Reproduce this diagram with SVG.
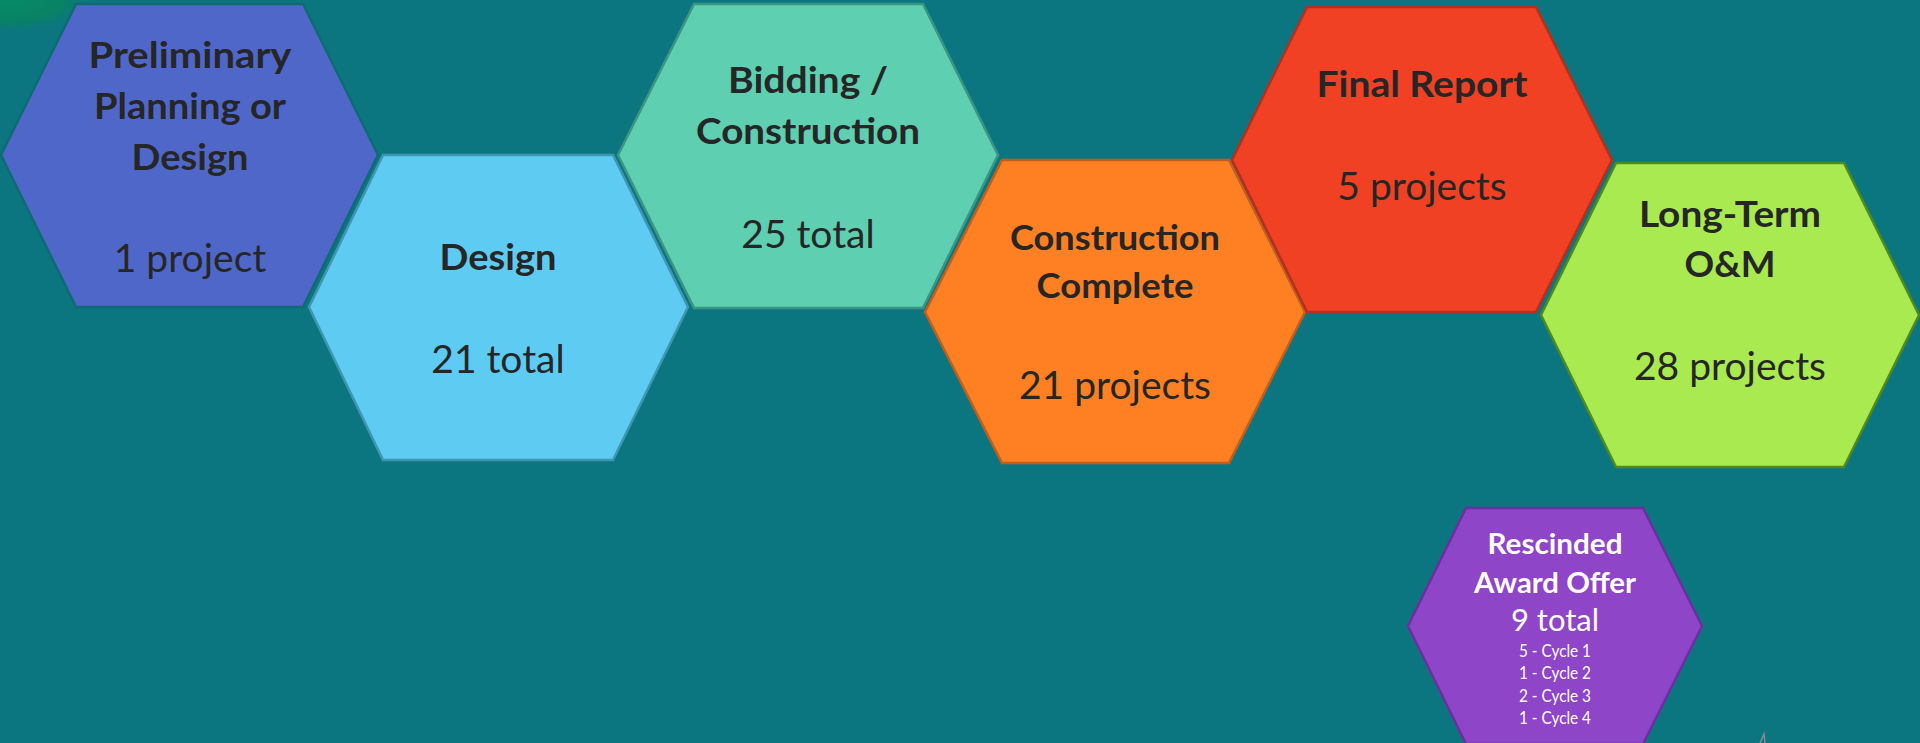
<svg xmlns="http://www.w3.org/2000/svg" width="1920" height="743" viewBox="0 0 1920 743">
<style>
.hex{stroke-width:2.5;stroke-linejoin:miter}
.h{font-family:Lato,"Open Sans","Liberation Sans",sans-serif;font-weight:700;font-size:37px;fill:#262626;text-anchor:middle}
.h2{font-size:35px}
.n{font-family:Lato,"Open Sans","Liberation Sans",sans-serif;font-weight:400;font-size:39px;fill:#262626;text-anchor:middle}
.wh{font-family:Lato,"Open Sans","Liberation Sans",sans-serif;font-weight:700;font-size:29px;fill:#ffffff;text-anchor:middle}
.wn{font-family:Lato,"Open Sans","Liberation Sans",sans-serif;font-weight:400;font-size:31px;fill:#ffffff;text-anchor:middle}
.ws{font-family:Lato,"Open Sans","Liberation Sans",sans-serif;font-weight:400;font-size:18px;fill:#ffffff;text-anchor:middle}
</style>
<defs>
<radialGradient id="glow" cx="0" cy="0" r="1" gradientUnits="userSpaceOnUse" gradientTransform="translate(10,0) scale(90,35)">
<stop offset="0" stop-color="#078a68"/>
<stop offset="0.6" stop-color="#088264"/>
<stop offset="1" stop-color="#0c7680" stop-opacity="0"/>
</radialGradient>
</defs>
<rect width="1920" height="743" fill="#0c7680"/>
<rect width="120" height="50" fill="url(#glow)"/>

<g id="connectors"></g>

<g id="node-preliminary">
<polygon class="hex" points="76,4 303,4 378,155 303,307 76,307 1,155" fill="#5067ca" stroke="#0f6a74"/>
<text class="h" x="190" y="68" textLength="203" lengthAdjust="spacingAndGlyphs">Preliminary</text>
<text class="h" x="190" y="119" textLength="192" lengthAdjust="spacingAndGlyphs">Planning or</text>
<text class="h" x="190" y="170" textLength="117" lengthAdjust="spacingAndGlyphs">Design</text>
<text class="n" x="190" y="272">1 project</text>
</g>

<g id="node-design">
<polygon class="hex" points="383,155 613,155 688,307 613,460 383,460 309,307" fill="#5ecbf3" stroke="#3f96b2"/>
<text class="h" x="498" y="270" textLength="117" lengthAdjust="spacingAndGlyphs">Design</text>
<text class="n" x="498" y="373">21 total</text>
</g>

<g id="node-bidding">
<polygon class="hex" points="694,4 923,4 998,155 923,308 694,308 618,155" fill="#5ecfb1" stroke="#3b9585"/>
<text class="h" x="808" y="93" textLength="160" lengthAdjust="spacingAndGlyphs">Bidding /</text>
<text class="h" x="808" y="144" textLength="224" lengthAdjust="spacingAndGlyphs">Construction</text>
<text class="n" x="808" y="248">25 total</text>
</g>

<g id="node-construction-complete">
<polygon class="hex" points="1002,160 1229,160 1305,312 1229,463 1002,463 925,312" fill="#ff8022" stroke="#c25d1c"/>
<text class="h h2" x="1115" y="250" textLength="210" lengthAdjust="spacingAndGlyphs">Construction</text>
<text class="h h2" x="1115" y="298" textLength="157" lengthAdjust="spacingAndGlyphs">Complete</text>
<text class="n" x="1115" y="399">21 projects</text>
</g>

<g id="node-final-report">
<polygon class="hex" points="1307,7 1536,7 1612,160 1536,312 1307,312 1232,160" fill="#f04124" stroke="#b3301f"/>
<text class="h" x="1422" y="97" textLength="211" lengthAdjust="spacingAndGlyphs">Final Report</text>
<text class="n" x="1422" y="200">5 projects</text>
</g>

<g id="node-long-term">
<polygon class="hex" points="1616,163 1844,163 1919,315 1844,467 1616,467 1541,315" fill="#a8ea50" stroke="#4f8a1f"/>
<text class="h" x="1730" y="227" textLength="182" lengthAdjust="spacingAndGlyphs">Long-Term</text>
<text class="h" x="1730" y="277" textLength="91" lengthAdjust="spacingAndGlyphs">O&amp;M</text>
<text class="n" x="1730" y="380">28 projects</text>
</g>

<g id="node-rescinded">
<polygon class="hex" points="1466,508 1643,508 1702,626 1643,744 1466,744 1408,626" fill="#8e45c8" stroke="#6d2fa0"/>
<text class="wh" x="1555" y="554" textLength="135" lengthAdjust="spacingAndGlyphs">Rescinded</text>
<text class="wh" x="1555" y="593" textLength="162" lengthAdjust="spacingAndGlyphs">Award Offer</text>
<text class="wn" x="1555" y="631">9 total</text>
<text class="ws" x="1555" y="657" textLength="72" lengthAdjust="spacingAndGlyphs">5 - Cycle 1</text>
<text class="ws" x="1555" y="679" textLength="72" lengthAdjust="spacingAndGlyphs">1 - Cycle 2</text>
<text class="ws" x="1555" y="702" textLength="72" lengthAdjust="spacingAndGlyphs">2 - Cycle 3</text>
<text class="ws" x="1555" y="724" textLength="72" lengthAdjust="spacingAndGlyphs">1 - Cycle 4</text>
</g>

<path d="M1760,743 L1764,734 L1765,743" fill="none" stroke="#8a8a8a" stroke-width="1.5"/>
</svg>
